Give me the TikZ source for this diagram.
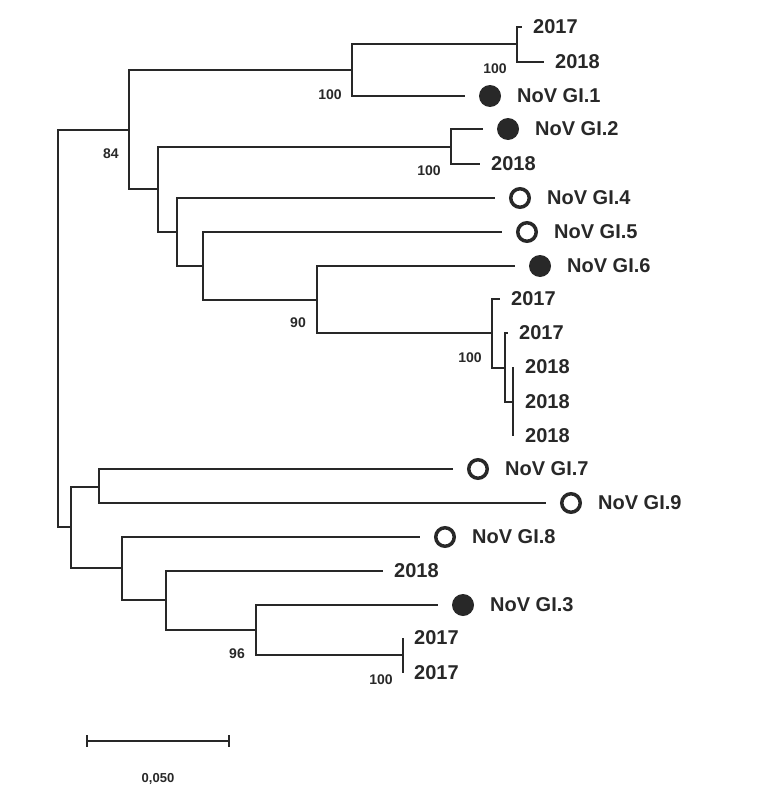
\documentclass[tikz,border=0pt]{standalone}
\usepackage{fontspec}
\setmainfont{Liberation Sans}
\usetikzlibrary{positioning}
\definecolor{ink}{RGB}{40,40,40}
\tikzset{
  leaflab/.style={inner sep=0pt, text=ink, font=\bfseries\fontsize{20}{24}\selectfont},
  boot/.style={inner sep=0pt, text=ink, font=\bfseries\fontsize{14}{16}\selectfont},
  scalelab/.style={inner sep=0pt, text=ink, font=\bfseries\fontsize{13}{15}\selectfont},
  fullmark/.style={circle, fill=ink, minimum size=22pt, inner sep=0pt, outer sep=0pt},
  openmark/.style={circle, draw=ink, fill=white, line width=3.5pt, minimum size=18.5pt, inner sep=0pt, outer sep=1.75pt},
}
\begin{document}
\begin{tikzpicture}[x=1pt, y=-1pt]
  \useasboundingbox (0,0) rectangle (762,800);
  % inner nodes
  \path
    (58,328.5) coordinate (root)
    (129,130) coordinate (A)
    (352,70) coordinate (B)
    (517,44) coordinate (C)
    (158,189) coordinate (D)
    (451,147) coordinate (E)
    (177,232) coordinate (F)
    (203,266) coordinate (G)
    (317,300) coordinate (H)
    (492,333) coordinate (I)
    (505,368) coordinate (J)
    (513,402) coordinate (K)
    (71,527) coordinate (L)
    (99,487) coordinate (M)
    (122,568) coordinate (N)
    (166,600) coordinate (O)
    (256,630) coordinate (P)
    (403,655) coordinate (Q);
  % leaves
  \path
    (522,27) coordinate (c1)
    (544,62) coordinate (c2)
    (465,96) coordinate (g1)
    (483,129) coordinate (g2)
    (480,164) coordinate (e2)
    (495,198) coordinate (g4)
    (502,232) coordinate (g5)
    (515,266) coordinate (g6)
    (500,299) coordinate (i1)
    (508,333) coordinate (j1)
    (513,367) coordinate (k1)
    (513,402) coordinate (k2)
    (513,436) coordinate (k3)
    (453,469) coordinate (g7)
    (546,503) coordinate (g9)
    (420,537) coordinate (g8)
    (383,571) coordinate (o1)
    (438,605) coordinate (g3)
    (403,638) coordinate (q1)
    (403,673) coordinate (q2);
  \begin{scope}[draw=ink, line width=1.8pt]
    \draw (root) |- (A);
    \draw (root) |- (L);
    \draw (A) |- (B);
    \draw (A) |- (D);
    \draw (B) |- (C);
    \draw (B) |- (g1);
    \draw (C) |- (c1);
    \draw (C) |- (c2);
    \draw (D) |- (E);
    \draw (D) |- (F);
    \draw (E) |- (g2);
    \draw (E) |- (e2);
    \draw (F) |- (g4);
    \draw (F) |- (G);
    \draw (G) |- (g5);
    \draw (G) |- (H);
    \draw (H) |- (g6);
    \draw (H) |- (I);
    \draw (I) |- (i1);
    \draw (I) |- (J);
    \draw (J) |- (j1);
    \draw (J) |- (K);
    \draw (K) |- (k1);
    \draw (K) |- (k3);
    \draw (L) |- (M);
    \draw (L) |- (N);
    \draw (M) |- (g7);
    \draw (M) |- (g9);
    \draw (N) |- (g8);
    \draw (N) |- (O);
    \draw (O) |- (o1);
    \draw (O) |- (P);
    \draw (P) |- (g3);
    \draw (P) |- (Q);
    \draw (Q) |- (q1);
    \draw (Q) |- (q2);
  \end{scope}
  % marks
  \node[fullmark, right=14pt of g1] (m1) {};
  \node[fullmark, right=14pt of g2] (m2) {};
  \node[fullmark, right=14pt of g3] (m3) {};
  \node[openmark, right=14pt of g4] (m4) {};
  \node[openmark, right=14pt of g5] (m5) {};
  \node[fullmark, right=14pt of g6] (m6) {};
  \node[openmark, right=14pt of g7] (m7) {};
  \node[openmark, right=14pt of g8] (m8) {};
  \node[openmark, right=14pt of g9] (m9) {};
  \node[leaflab, right=16pt of m1] (t1) {NoV GI.1};
  \node[leaflab, right=16pt of m2] (t2) {NoV GI.2};
  \node[leaflab, right=16pt of m3] (t3) {NoV GI.3};
  \node[leaflab, right=16pt of m4] (t4) {NoV GI.4};
  \node[leaflab, right=16pt of m5] (t5) {NoV GI.5};
  \node[leaflab, right=16pt of m6] (t6) {NoV GI.6};
  \node[leaflab, right=16pt of m7] (t7) {NoV GI.7};
  \node[leaflab, right=16pt of m8] (t8) {NoV GI.8};
  \node[leaflab, right=16pt of m9] (t9) {NoV GI.9};
  % years
  \node[leaflab, right=11pt of c1] (yc1) {2017};
  \node[leaflab, right=11pt of c2] (yc2) {2018};
  \node[leaflab, right=11pt of e2] (ye2) {2018};
  \node[leaflab, right=11pt of i1] (yi1) {2017};
  \node[leaflab, right=11pt of j1] (yj1) {2017};
  \node[leaflab, right=12pt of k1] (yk1) {2018};
  \node[leaflab, right=12pt of k2] (yk2) {2018};
  \node[leaflab, right=12pt of k3] (yk3) {2018};
  \node[leaflab, right=11pt of o1] (yo1) {2018};
  \node[leaflab, right=11pt of q1] (yq1) {2017};
  \node[leaflab, right=11pt of q2] (yq2) {2017};
  % bootstrap values
  \node[boot] (bC) at (495,69) {100};
  \node[boot] (bB) at (330,95) {100};
  \node[boot] (bA) at (111,154) {84};
  \node[boot] (bE) at (429,171) {100};
  \node[boot] (bH) at (298,323) {90};
  \node[boot] (bI) at (470,358) {100};
  \node[boot] (bP) at (237,654) {96};
  \node[boot] (bQ) at (381,680) {100};
  % scale bar
  \coordinate (s0) at (87,741);
  \coordinate (s1) at (229,741);
  \draw[draw=ink, line width=1.3pt] (s0) -- (s1);
  \draw[draw=ink, line width=1.3pt] ([yshift=6pt]s0) -- ([yshift=-6pt]s0);
  \draw[draw=ink, line width=1.3pt] ([yshift=6pt]s1) -- ([yshift=-6pt]s1);
  \node[scalelab] (sl) at (158,779) {0,050};
\end{tikzpicture}
\end{document}
